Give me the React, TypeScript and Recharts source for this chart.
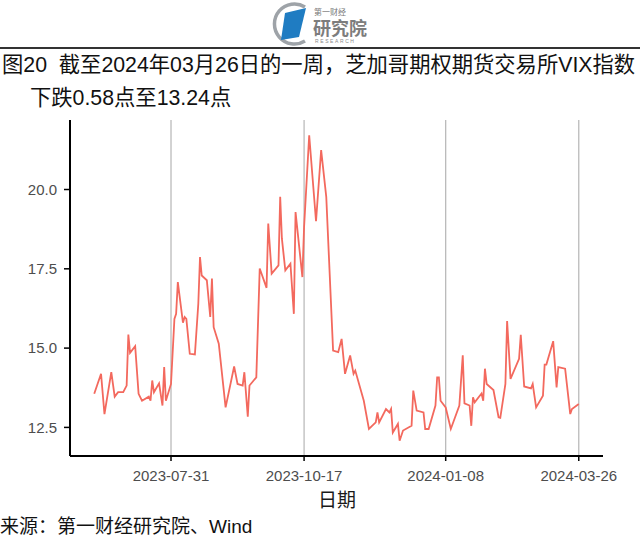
import { LineChart, Line, XAxis, YAxis, ReferenceLine } from 'recharts';

const dates = [
  '2023-06-16', '2023-06-20', '2023-06-22', '2023-06-26', '2023-06-28', '2023-06-30', '2023-07-03', '2023-07-05',
  '2023-07-06', '2023-07-07', '2023-07-10', '2023-07-12', '2023-07-14', '2023-07-18', '2023-07-19', '2023-07-20',
  '2023-07-21', '2023-07-24', '2023-07-26', '2023-07-27', '2023-07-28', '2023-07-31', '2023-08-02', '2023-08-03',
  '2023-08-04', '2023-08-07', '2023-08-08', '2023-08-09', '2023-08-11', '2023-08-14', '2023-08-16', '2023-08-17',
  '2023-08-18', '2023-08-21', '2023-08-23', '2023-08-24', '2023-08-25', '2023-08-28', '2023-09-01', '2023-09-06',
  '2023-09-08', '2023-09-11', '2023-09-12', '2023-09-14', '2023-09-15', '2023-09-19', '2023-09-21', '2023-09-25',
  '2023-09-26', '2023-09-28', '2023-10-02', '2023-10-03', '2023-10-04', '2023-10-06', '2023-10-09', '2023-10-11',
  '2023-10-12', '2023-10-16', '2023-10-17', '2023-10-20', '2023-10-24', '2023-10-27', '2023-10-30', '2023-11-03',
  '2023-11-06', '2023-11-08', '2023-11-10', '2023-11-13', '2023-11-15', '2023-11-16', '2023-11-21', '2023-11-24',
  '2023-11-28', '2023-11-29', '2023-11-30', '2023-12-04', '2023-12-06', '2023-12-07', '2023-12-08', '2023-12-11',
  '2023-12-12', '2023-12-14', '2023-12-19', '2023-12-20', '2023-12-22', '2023-12-26', '2023-12-27', '2023-12-29',
  '2024-01-02', '2024-01-03', '2024-01-04', '2024-01-05', '2024-01-08', '2024-01-11', '2024-01-16', '2024-01-18',
  '2024-01-19', '2024-01-22', '2024-01-23', '2024-01-24', '2024-01-25', '2024-01-29', '2024-01-30', '2024-01-31',
  '2024-02-01', '2024-02-05', '2024-02-08', '2024-02-09', '2024-02-12', '2024-02-13', '2024-02-15', '2024-02-20',
  '2024-02-21', '2024-02-23', '2024-02-27', '2024-02-28', '2024-02-29', '2024-03-01', '2024-03-05', '2024-03-06',
  '2024-03-07', '2024-03-11', '2024-03-13', '2024-03-14', '2024-03-18', '2024-03-21', '2024-03-22', '2024-03-26',
];

const vix = [
  13.56, 14.19, 12.92, 14.24, 13.47, 13.61, 13.61, 13.82,
  15.43, 14.85, 15.06, 13.56, 13.34, 13.47, 13.34, 13.98,
  13.61, 13.89, 13.19, 14.4, 13.34, 13.87, 15.92, 16.08,
  17.08, 15.8, 15.98, 15.92, 14.82, 14.8, 16.4, 17.87,
  17.29, 17.14, 15.98, 17.19, 15.66, 15.14, 13.13, 14.42,
  13.87, 13.82, 14.24, 12.84, 13.82, 14.08, 17.51, 16.9,
  18.93, 17.35, 17.61, 19.77, 18.45, 17.45, 17.66, 16.08,
  19.29, 17.24, 18.82, 21.71, 19.0, 21.24, 19.77, 14.92,
  14.87, 15.29, 14.19, 14.77, 14.19, 14.29, 13.34, 12.45,
  12.66, 12.97, 12.66, 13.08, 12.97, 13.08, 12.34, 12.61,
  12.08, 12.4, 12.55, 13.66, 13.03, 12.97, 12.45, 12.45,
  13.19, 14.08, 14.08, 13.34, 13.13, 12.45, 13.19, 14.77,
  13.26, 13.19, 12.55, 13.45, 13.29, 13.57, 13.34, 14.35,
  13.87, 13.68, 12.82, 12.8, 13.87, 15.85, 14.03, 14.66,
  15.42, 13.79, 13.73, 13.87, 13.5, 13.13, 13.5, 14.48,
  14.48, 15.22, 13.76, 14.4, 14.35, 12.92, 13.08, 13.24,
];

const xTicks = ['2023-07-31', '2023-10-17', '2024-01-08', '2024-03-26'];
const yTicks = [12.5, 15.0, 17.5, 20.0];

const dayNum = (s: string) => {
  const [y, m, d] = s.split('-').map(Number);
  return Date.UTC(y, m - 1, d) / 86400000;
};
const fmtDay = (n: number) => new Date(n * 86400000).toISOString().slice(0, 10);

const data = dates.map((d, i) => ({ t: dayNum(d), v: vix[i] }));

// ggplot-style 5% expansion on both axes
const tMin = data[0].t;
const tMax = data[data.length - 1].t;
const tPad = (tMax - tMin) * 0.05;
const vMin = Math.min(...vix);
const vMax = Math.max(...vix);
const vPad = (vMax - vMin) * 0.05;

const FONT = "'Liberation Sans', 'Noto Sans CJK SC', sans-serif";

function Logo() {
  return (
    <svg width={120} height={48} style={{ position: 'absolute', left: 268, top: 0 }}>
      <path d="M 37 7 A 20 20 0 1 0 37 41" fill="none" stroke="#9ea3a8" strokeWidth={3.5} />
      <polygon points="17,13 38,8 31,37 13,40" fill="#1f7cc2" />
      <text x={46} y={15} fontSize={8} fill="#777" fontFamily={FONT}>第一财经</text>
      <text x={45} y={35} fontSize={18} fontWeight="bold" fill="#7d7d7d" fontFamily={FONT}>研究院</text>
      <text x={47} y={43} fontSize={5} fill="#8a8a8a" letterSpacing={1.6} fontFamily={FONT}>RESEARCH</text>
    </svg>
  );
}

export default function App() {
  return (
    <div style={{ position: 'absolute', left: 0, top: 0, width: 640, height: 546, background: '#fff', fontFamily: FONT, overflow: 'hidden' }}>
      <Logo />
      <div style={{ position: 'absolute', left: 0, top: 47, width: 640, height: 2, background: '#333' }} />
      <div style={{ position: 'absolute', left: 2, top: 52, fontSize: 21.3, lineHeight: '26px', color: '#111', whiteSpace: 'nowrap' }}>
        图20&nbsp;&nbsp;截至2024年03月26日的一周，芝加哥期权期货交易所VIX指数
      </div>
      <div style={{ position: 'absolute', left: 30, top: 85, fontSize: 21.3, lineHeight: '26px', color: '#111', whiteSpace: 'nowrap' }}>
        下跌0.58点至13.24点
      </div>

      <div style={{ position: 'absolute', left: 0, top: 0 }}>
        <LineChart width={640} height={546} data={data} margin={{ top: 120, right: 37, left: 10, bottom: 60 }}>
          <XAxis
            dataKey="t"
            type="number"
            domain={[tMin - tPad, tMax + tPad]}
            ticks={xTicks.map(dayNum)}
            tickFormatter={fmtDay}
            height={30}
            tickSize={5}
            tickMargin={9}
            axisLine={{ stroke: '#000', strokeWidth: 2 }}
            tickLine={{ stroke: '#000', strokeWidth: 1.5 }}
            tick={{ fill: '#4d4d4d', fontSize: 15, fontFamily: FONT }}
          />
          <YAxis
            dataKey="v"
            type="number"
            domain={[vMin - vPad, vMax + vPad]}
            ticks={yTicks}
            tickFormatter={(v: number) => v.toFixed(1)}
            width={60}
            tickSize={6}
            tickMargin={7}
            axisLine={{ stroke: '#000', strokeWidth: 2 }}
            tickLine={{ stroke: '#000', strokeWidth: 1.5 }}
            tick={{ fill: '#4d4d4d', fontSize: 15, fontFamily: FONT }}
          />
          {xTicks.map((d) => (
            <ReferenceLine key={d} x={dayNum(d)} stroke="#b5b5b5" strokeWidth={1.2} />
          ))}
          <Line
            type="linear"
            dataKey="v"
            stroke="#f3695e"
            strokeWidth={1.8}
            dot={false}
            isAnimationActive={false}
          />
        </LineChart>
      </div>

      <div style={{ position: 'absolute', left: 318, top: 485, fontSize: 19, color: '#1a1a1a' }}>日期</div>
      <div style={{ position: 'absolute', left: 0, top: 511, fontSize: 19, color: '#111', whiteSpace: 'nowrap' }}>
        来源：第一财经研究院、Wind
      </div>
    </div>
  );
}
